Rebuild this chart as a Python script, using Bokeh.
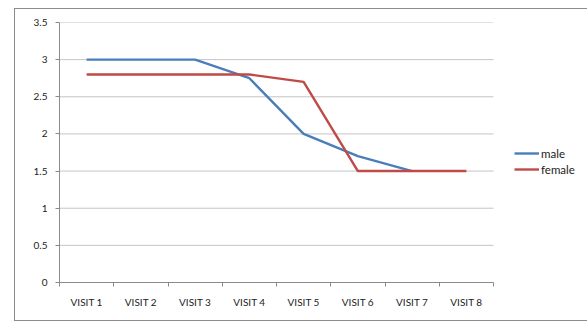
from bokeh.plotting import figure
from bokeh.models import Range1d, FixedTicker, Legend, LegendItem, ColumnDataSource
from bokeh.embed import file_html
from bokeh.resources import INLINE

# Visit categories and the mean scores per group
visits = ["VISIT 1", "VISIT 2", "VISIT 3", "VISIT 4", "VISIT 5", "VISIT 6", "VISIT 7", "VISIT 8"]
male = [3, 3, 3, 2.75, 2, 1.7, 1.5, float("nan")]
female = [2.8, 2.8, 2.8, 2.8, 2.7, 1.5, 1.5, 1.5]
y_ticks = [0, 0.5, 1, 1.5, 2, 2.5, 3, 3.5]
y_tick_labels = ["0", "0.5", "1", "1.5", "2", "2.5", "3", "3.5"]

n = len(visits)
# each visit sits in the middle of its own band
x_pos = [i + 0.5 for i in range(n)]
src = ColumnDataSource(dict(x=x_pos, male=male, female=female))

FONT = "Lato"
GRID = "#c4c4c4"
AXIS = "#8a8a8a"

W, H = 573, 313
LEFT, RIGHT, TOP, BOTTOM = 44, 5, 13, 40
PLOT_W = 434  # pixel width of the band area; the rest of the frame holds the legend
frame_w = W - LEFT - RIGHT
x_end = n * frame_w / PLOT_W

p = figure(width=W, height=H, output_backend="svg", toolbar_location=None,
           x_range=Range1d(0, x_end), y_range=Range1d(0, 3.5),
           min_border_left=LEFT, min_border_right=RIGHT,
           min_border_top=TOP, min_border_bottom=BOTTOM)
p.margin = (8, 0, 0, 14)
p.styles = {"border-left": "1px solid #8c8c8c", "border-top": "1px solid #8c8c8c",
            "border-bottom": "1px solid #8c8c8c", "box-sizing": "border-box"}
p.outline_line_color = None
p.background_fill_color = "white"
p.border_fill_color = "white"

# x axis: labels centred in bands, tick marks on band boundaries
p.xaxis.bounds = (0, n)
p.xaxis.ticker = FixedTicker(ticks=x_pos, minor_ticks=list(range(n + 1)))
p.xaxis.major_label_overrides = {x: v for x, v in zip(x_pos, visits)}
p.xaxis.major_tick_line_color = None
p.xaxis.minor_tick_in = 0
p.xaxis.minor_tick_out = 4
p.xaxis.minor_tick_line_color = AXIS
p.xaxis.axis_line_color = AXIS
p.xaxis.major_label_standoff = 7
p.xaxis.major_label_text_font = FONT
p.xaxis.major_label_text_font_size = "10px"
p.xaxis.major_label_text_color = "#222222"

# y axis
p.yaxis.ticker = FixedTicker(ticks=y_ticks, minor_ticks=[])
p.yaxis.major_label_overrides = {t: s for t, s in zip(y_ticks, y_tick_labels)}
p.yaxis.major_tick_in = 0
p.yaxis.major_tick_out = 4
p.yaxis.major_tick_line_color = AXIS
p.yaxis.axis_line_color = AXIS
p.yaxis.major_label_standoff = 8
p.yaxis.major_label_text_font = FONT
p.yaxis.major_label_text_font_size = "10px"
p.yaxis.major_label_text_color = "#222222"

# horizontal gridlines only across the band area
p.xgrid.grid_line_color = None
p.ygrid.grid_line_color = None
grid_src = ColumnDataSource(dict(y=[t for t in y_ticks if t > 0]))
p.segment(x0=0, x1=n, y0="y", y1="y", source=grid_src,
          line_color=GRID, line_width=1, level="underlay")

r_male = p.line("x", "male", source=src, line_color="#4a7ebb", line_width=2.4)
r_female = p.line("x", "female", source=src, line_color="#be4b48", line_width=2.4)

legend = Legend(items=[LegendItem(label="male", renderers=[r_male]),
                       LegendItem(label="female", renderers=[r_female])],
                location=(PLOT_W + 21, 105), orientation="vertical",
                padding=0, margin=0, spacing=0, label_standoff=2,
                glyph_width=25, glyph_height=16, label_height=16,
                border_line_color=None, background_fill_alpha=0,
                label_text_font=FONT, label_text_font_size="11.5px",
                label_text_color="#222222")
p.add_layout(legend, "center")

open("out.html", "w").write(file_html(p, INLINE))
